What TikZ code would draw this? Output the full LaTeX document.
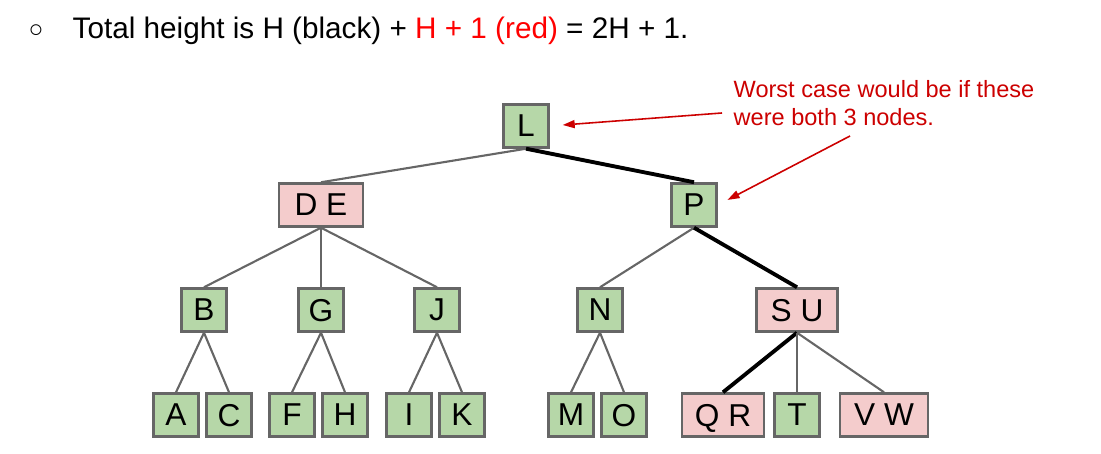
\documentclass[tikz,border=0pt]{standalone}
\usepackage{fontspec}
\setmainfont{Liberation Sans}
\usepackage{xcolor}
\usetikzlibrary{arrows.meta}
\definecolor{leafgreen}{HTML}{B6D7A8}
\definecolor{nodepink}{HTML}{F4CCCC}
\definecolor{boxgray}{HTML}{666666}
\definecolor{notered}{HTML}{CC0000}

\begin{document}
\begin{tikzpicture}[
    gbox/.style={shape=rectangle, draw=boxgray, line width=0.7pt, fill=leafgreen, text depth=0pt,
      minimum width=0.45cm, minimum height=0.43cm, inner sep=0pt, font=\fontsize{9}{10}\selectfont},
    rbox/.style={gbox, fill=nodepink},
    link/.style={draw=boxgray, line width=0.6pt},
    heavy link/.style={draw=black, line width=1.1pt},
    note/.style={draw=notered, line width=0.45pt, -{Triangle[length=0.12cm,width=0.08cm]}}]
    \useasboundingbox (0,0) rectangle (11.01,4.54);

    % header line
    \node[anchor=center, inner sep=0pt, font=\fontsize{7}{8}\selectfont] (bullet) at (0.36,4.23) {○};
    \node[anchor=base west, inner sep=0pt, font=\fontsize{8.45}{10}\selectfont] (title) at (0.72,4.155)
      {Total height is H (black) + \textcolor{red}{H + 1 (red)} = 2H + 1.};

    % top two levels
    \node[gbox] (L) at (5.26,3.28) {L};
    \node[rbox, minimum width=0.84cm] (DE) at (3.21,2.49) {D E};
    \node[gbox] (P) at (6.94,2.49) {P};

    % third level
    \node[gbox] (B) at (2.04,1.44) {B};
    \node[gbox] (G) at (3.21,1.44) {G};
    \node[gbox] (J) at (4.37,1.44) {J};
    \node[gbox] (N) at (6.00,1.44) {N};
    \node[rbox, minimum width=0.81cm] (SU) at (7.97,1.44) {S U};

    % leaves
    \node[gbox] (A) at (1.76,0.39) {A};
    \node[gbox] (C) at (2.29,0.39) {C};
    \node[gbox] (F) at (2.92,0.39) {F};
    \node[gbox] (H) at (3.45,0.39) {H};
    \node[gbox] (I) at (4.09,0.39) {I};
    \node[gbox] (K) at (4.62,0.39) {K};
    \node[gbox] (M) at (5.71,0.39) {M};
    \node[gbox] (O) at (6.24,0.39) {O};
    \node[rbox, minimum width=0.82cm] (QR) at (7.23,0.39) {Q R};
    \node[gbox] (T) at (7.97,0.39) {T};
    \node[rbox, minimum width=0.88cm] (VW) at (8.84,0.39) {V W};

    % edges
    \draw[link] (L.south) -- (DE.north);
    \draw[heavy link] (L.south) -- (P.north);
    \draw[link] (DE.south) -- (B.north);
    \draw[link] (DE.south) -- (G.north);
    \draw[link] (DE.south) -- (J.north);
    \draw[link] (P.south) -- (N.north);
    \draw[heavy link] (P.south) -- (SU.north);
    \draw[link] (B.south) -- (A.north);
    \draw[link] (B.south) -- (C.north);
    \draw[link] (G.south) -- (F.north);
    \draw[link] (G.south) -- (H.north);
    \draw[link] (J.south) -- (I.north);
    \draw[link] (J.south) -- (K.north);
    \draw[link] (N.south) -- (M.north);
    \draw[link] (N.south) -- (O.north);
    \draw[heavy link] (SU.south) -- (QR.north);
    \draw[link] (SU.south) -- (T.north);
    \draw[link] (SU.south) -- (VW.north);

    % annotation
    \node[anchor=base west, inner sep=0pt, align=left, text=notered,
      font=\fontsize{6.7}{7.97}\selectfont] (worst) at (7.33,3.285)
      {Worst case would be if these\\were both 3 nodes.};
    \coordinate (from L) at (7.22,3.41);
    \coordinate (from P) at (8.50,3.18);
    \draw[note, shorten >=0.13cm] (from L) -- (L.east);
    \draw[note, shorten >=0.11cm] (from P) -- (P.east);
\end{tikzpicture}
\end{document}
